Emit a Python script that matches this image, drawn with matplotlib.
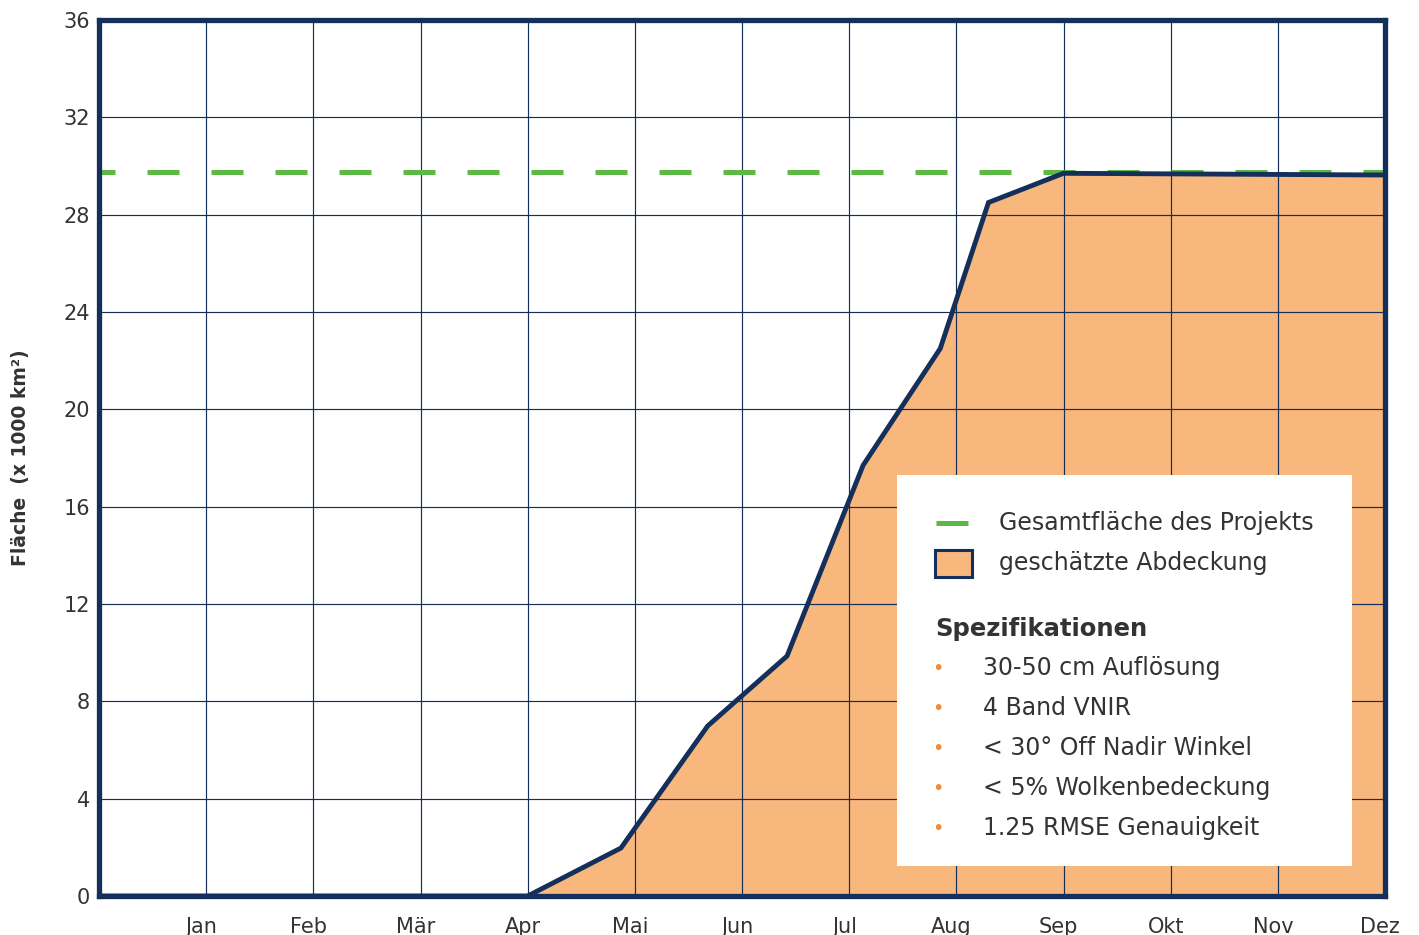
import matplotlib
matplotlib.use("Agg")
import matplotlib.pyplot as plt
from matplotlib.patches import Rectangle
from matplotlib.lines import Line2D
import numpy as np

months = ["Jan", "Feb", "Mär", "Apr", "Mai", "Jun", "Jul", "Aug", "Sep", "Okt", "Nov", "Dez"]
month_pos = [1, 2, 3, 4, 5, 6, 7, 8, 9, 10, 11, 12]
cover_x = [0.0, 4.0, 4.87, 5.68, 6.42, 7.13, 7.85, 8.30, 9.0, 12.0]
cover_y = [0.0, 0.0, 1.97, 6.99, 9.86, 17.7, 22.5, 28.5, 29.7, 29.63]
total_area = 29.74
yticks = [0, 4, 8, 12, 16, 20, 24, 28, 32, 36]

legend_labels = ["Gesamtfläche des Projekts", "geschätzte Abdeckung"]
spec_title = "Spezifikationen"
specs = ["30-50 cm Auflösung", "4 Band VNIR", "< 30° Off Nadir Winkel",
         "< 5% Wolkenbedeckung", "1.25 RMSE Genauigkeit"]

NAVY = "#14305a"
FILL = "#f8b77d"
GREEN = "#5cb946"
ORANGE = "#f28a2e"
TXT = "#333333"

plt.rcParams['font.family'] = ['DejaVu Sans']
W, H = 1419, 935
fig = plt.figure(figsize=(W / 100, H / 100), dpi=100)
ax = fig.add_axes([99 / W, 1 - 896 / H, (1385 - 99) / W, (896 - 20) / H])

ax.set_xlim(0, 12)
ax.set_ylim(0, 36)

# grid
ax.set_xticks(month_pos[:-1], minor=True)
ax.set_yticks(yticks)
ax.grid(True, which='minor', axis='x', color=NAVY, lw=0.85, zorder=1)
ax.grid(True, which='major', axis='y', color=NAVY, lw=0.85, zorder=1)
ax.set_axisbelow(False)

# labels
ax.set_xticks(np.array(month_pos) - 0.045)
ax.set_xticklabels(months, fontsize=15, color=TXT)
ax.set_yticklabels([str(v) for v in yticks], fontsize=15, color=TXT)
ax.tick_params(axis='both', which='both', length=0)
ax.tick_params(axis='x', pad=15)
ax.tick_params(axis='y', pad=6.5)
ax.set_ylabel("Fläche  (x 1000 km²)", fontsize=13.5, fontweight='bold', color=TXT)
ax.yaxis.set_label_coords(-0.0537, 0.5)

for s in ax.spines.values():
    s.set_color(NAVY)
    s.set_linewidth(3.8)
    s.set_zorder(6)

# data
ax.fill_between(cover_x, cover_y, 0, color=FILL, zorder=2, lw=0)
glw = 3.6
ax.plot([0, 12], [total_area, total_area], color=GREEN, lw=glw,
        ls=(3.2, (6.4, 6.4)), zorder=3, dash_capstyle='butt')
ax.plot(cover_x, cover_y, color=NAVY, lw=3.5, zorder=5, solid_joinstyle='miter')

# legend box (figure pixel coordinates)
def fx(x):
    return x / W

def fy(y):
    return 1 - y / H

fig.patches.append(Rectangle((fx(897), fy(866)), fx(1352) - fx(897), fy(475) - fy(866),
                             transform=fig.transFigure, facecolor='white', edgecolor='none', zorder=10))
fig.lines.append(Line2D([fx(936), fx(968)], [fy(523), fy(523)], transform=fig.transFigure,
                        color=GREEN, lw=3.6, zorder=11, solid_capstyle='butt'))
fig.patches.append(Rectangle((fx(935), fy(577)), fx(972) - fx(935), fy(550) - fy(577),
                             transform=fig.transFigure, facecolor=FILL, edgecolor=NAVY, lw=2.2, zorder=11))
fig.text(fx(999), fy(523), legend_labels[0], fontsize=17, color=TXT, va='center', ha='left', zorder=12)
fig.text(fx(999), fy(563), legend_labels[1], fontsize=17, color=TXT, va='center', ha='left', zorder=12)
fig.text(fx(935), fy(629), spec_title, fontsize=17.5, fontweight='bold', color=TXT, va='center', ha='left', zorder=12)
for i, s in enumerate(specs):
    yy = 668 + 40 * i
    fig.text(fx(938), fy(yy + 1), "•", fontsize=14, color=ORANGE, va='center', ha='center', zorder=12)
    fig.text(fx(983), fy(yy), s, fontsize=17, color=TXT, va='center', ha='left', zorder=12)

fig.savefig("out.png", dpi=100)
